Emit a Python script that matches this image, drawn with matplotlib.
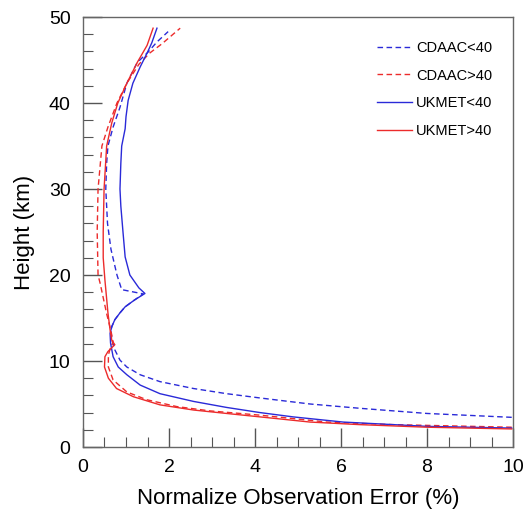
import matplotlib
matplotlib.use("Agg")
import matplotlib.pyplot as plt
from matplotlib.ticker import MultipleLocator

plt.rcParams['font.family'] = ['Liberation Sans', 'DejaVu Sans']

# UKMET<40 (blue solid)
ukmet_lt40_x = [9.97, 8.0, 7.22, 6.05, 4.89, 4.12, 3.34, 2.57, 1.79, 1.33, 1.02, 0.82, 0.70,
                0.64, 0.63, 0.67, 0.74, 0.86, 0.98, 1.2, 1.44,
                1.3, 1.09, 0.98, 0.93, 0.88, 0.86, 0.88, 0.9, 0.98, 1.0, 1.05, 1.16, 1.33, 1.49, 1.6, 1.72]
ukmet_lt40_h = [2.2, 2.4, 2.6, 2.9, 3.5, 4.0, 4.6, 5.3, 6.2, 7.2, 8.4, 9.3, 10.5,
                12.1, 13.2, 14.0, 14.8, 15.6, 16.3, 17.1, 17.85,
                18.5, 20.0, 22.1, 25.0, 28.0, 30.0, 33.0, 35.0, 37.0, 38.4, 40.3, 42.3, 44.2, 45.8, 47.0, 48.7]

# CDAAC<40 (blue dashed)
cdaac_lt40_x = [9.97, 8.0, 6.44, 5.28, 4.12, 3.34, 2.57, 1.79, 1.33, 1.02, 0.86, 0.74,
                0.67, 0.65, 0.67, 0.74, 0.86, 0.98, 1.2, 1.4,
                0.9, 0.79, 0.65, 0.57, 0.53, 0.55, 0.58, 0.7, 0.86, 1.02, 1.26, 1.51, 1.72, 1.98]
cdaac_lt40_h = [3.45, 3.9, 4.5, 5.0, 5.7, 6.2, 6.8, 7.6, 8.4, 9.3, 10.1, 11.3,
                12.5, 13.6, 14.0, 14.8, 15.6, 16.3, 17.1, 17.8,
                18.3, 20.0, 23.0, 26.0, 30.0, 33.0, 35.0, 37.2, 39.5, 42.3, 44.7, 45.9, 47.1, 48.3]

# UKMET>40 (red solid)
ukmet_gt40_x = [9.97, 8.0, 6.44, 5.28, 4.12, 3.34, 2.57, 1.79, 1.17, 0.78, 0.59, 0.50, 0.51,
                0.58, 0.74, 0.67, 0.63, 0.58, 0.51, 0.47, 0.47, 0.49, 0.55, 0.67, 0.81, 1.02, 1.26, 1.49, 1.63]
ukmet_gt40_h = [2.1, 2.3, 2.6, 2.9, 3.5, 3.9, 4.3, 4.9, 5.85, 6.8, 8.0, 9.3, 10.5,
                11.1, 11.9, 12.4, 13.6, 15.6, 19.4, 22.0, 25.0, 30.0, 35.0, 37.7, 40.0, 42.3, 44.7, 46.7, 48.7]

# CDAAC>40 (red dashed)
cdaac_gt40_x = [9.97, 7.22, 5.67, 4.12, 2.95, 2.18, 1.48, 1.02, 0.70, 0.59, 0.59, 0.63,
                0.7, 0.65, 0.55, 0.4, 0.35, 0.33, 0.35, 0.44, 0.58, 0.79, 1.02, 1.3, 1.55, 1.84, 2.26]
cdaac_gt40_h = [2.3, 2.6, 2.9, 3.7, 4.2, 4.7, 5.5, 6.4, 7.8, 9.3, 10.7, 11.4,
                12.2, 13.5, 15.5, 19.0, 20.0, 25.0, 30.0, 35.0, 37.2, 40.0, 42.3, 44.5, 45.8, 46.9, 48.7]

blue = '#2a2ad8'
red = '#ec2b2b'

fig = plt.figure(figsize=(5.24, 5.13), dpi=100)
ax = fig.add_axes([83/524, 66/513, 430/524, 430/513])

ax.plot(cdaac_lt40_x, cdaac_lt40_h, color=blue, ls=(0, (4, 2.5)), lw=1.0, label='CDAAC<40')
ax.plot(cdaac_gt40_x, cdaac_gt40_h, color=red, ls=(0, (4, 2.5)), lw=1.0, label='CDAAC>40')
ax.plot(ukmet_lt40_x, ukmet_lt40_h, color=blue, ls='-', lw=1.0, label='UKMET<40')
ax.plot(ukmet_gt40_x, ukmet_gt40_h, color=red, ls='-', lw=1.0, label='UKMET>40')

ax.set_xlim(0, 10)
ax.set_ylim(0, 50)
ax.xaxis.set_major_locator(MultipleLocator(2))
ax.xaxis.set_minor_locator(MultipleLocator(0.5))
ax.yaxis.set_major_locator(MultipleLocator(10))
ax.yaxis.set_minor_locator(MultipleLocator(2))
ax.tick_params(which='both', direction='in', top=False, right=False, color='#555555')
ax.tick_params(which='major', length=14, width=1.0, labelsize=14, pad=9)
ax.tick_params(which='minor', length=7, width=0.8)
for s in ax.spines.values():
    s.set_color('#666666')
    s.set_linewidth(1.0)

ax.set_xlabel('Normalize Observation Error (%)', fontsize=16, labelpad=8)
ax.set_ylabel('Height (km)', fontsize=16, labelpad=10)

leg = ax.legend(loc='upper left', bbox_to_anchor=(0.684, 0.945), frameon=False,
                borderpad=0, borderaxespad=0,
                fontsize=10.5, handlelength=2.4, handletextpad=0.25, labelspacing=0.95)

fig.savefig('out.png', dpi=100)
